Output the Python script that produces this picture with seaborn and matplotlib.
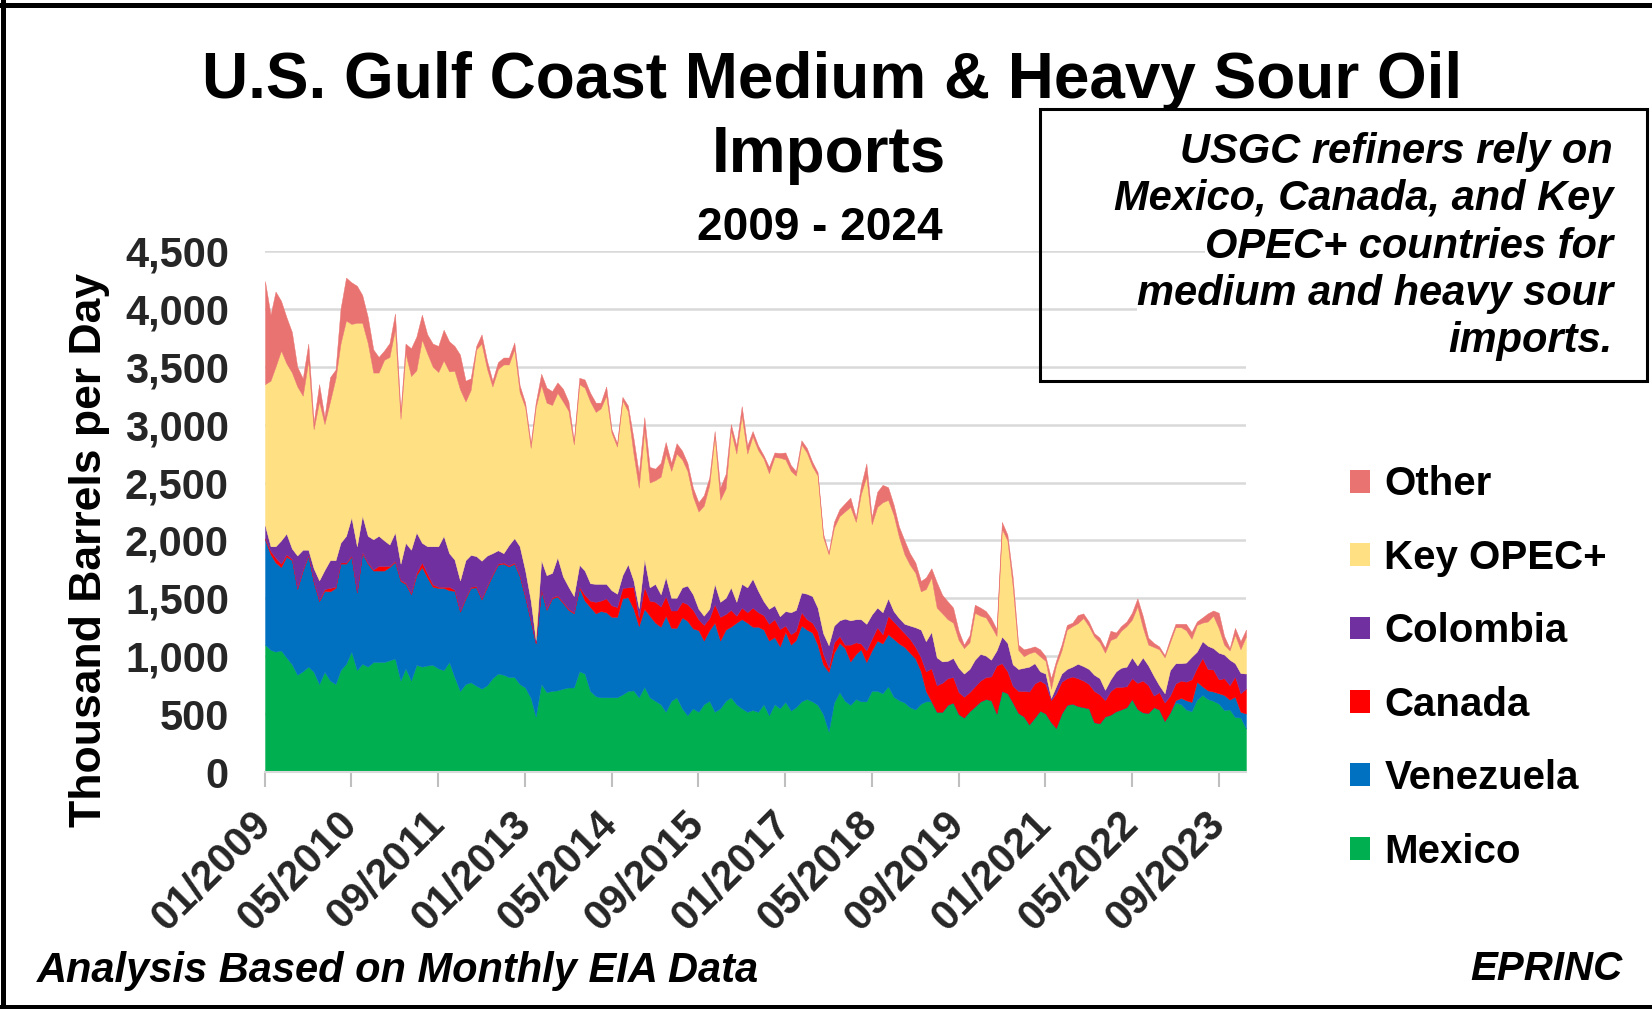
import numpy as np
import pandas as pd
import matplotlib
matplotlib.use("Agg")
import matplotlib.pyplot as plt
import seaborn as sns
from matplotlib.patches import Patch, Rectangle
from matplotlib.lines import Line2D

# ---------------- data (thousand barrels per day, monthly from 01/2009) ----------------
start_month = "2009-01"

mexico = [
    1100, 1055, 1040, 1050, 990, 930, 840, 870, 910, 865,
    760, 865, 790, 760, 880, 935, 1040, 880, 935, 910,
    950, 950, 950, 965, 980, 790, 895, 790, 925, 910,
    920, 925, 895, 880, 950, 820, 700, 760, 775, 745,
    720, 750, 810, 850, 840, 820, 820, 760, 730, 640,
    480, 760, 690, 700, 705, 720, 730, 730, 870, 850,
    700, 655, 645, 645, 645, 645, 670, 700, 705, 645,
    735, 645, 615, 585, 520, 615, 645, 550, 490, 550,
    520, 585, 615, 520, 550, 615, 645, 585, 550, 520,
    535, 520, 585, 490, 585, 550, 605, 530, 560, 610,
    630, 610, 580, 500, 350, 600, 690, 615, 580, 630,
    610, 610, 700, 700, 680, 740, 650, 620, 600, 560,
    540, 590, 610, 610, 520, 520, 580, 600, 500, 470,
    525, 565, 610, 630, 620, 505, 700, 680, 600, 510,
    480, 410, 470, 530, 505, 430, 380, 505, 580, 590,
    570, 560, 550, 430, 420, 480, 495, 525, 540, 560,
    630, 545, 515, 510, 560, 540, 440, 515, 600, 585,
    540, 525, 625, 665, 630, 615, 590, 535, 540, 475,
    470, 375,
]

venezuela = [
    910, 825, 770, 720, 870, 900, 740, 870, 960, 775,
    715, 700, 770, 830, 920, 865, 820, 670, 955, 890,
    790, 790, 790, 805, 835, 860, 730, 745, 775, 860,
    760, 675, 695, 710, 620, 745, 685, 740, 815, 850,
    770, 850, 890, 940, 960, 955, 980, 930, 780, 660,
    630, 810, 710, 800, 810, 740, 670, 640, 720, 630,
    725, 715, 745, 735, 695, 695, 830, 810, 705, 615,
    675, 705, 675, 670, 830, 630, 600, 785, 815, 690,
    705, 550, 610, 770, 585, 615, 610, 705, 770, 770,
    720, 735, 645, 645, 580, 535, 605, 570, 580, 655,
    600, 595, 520, 430, 515, 430, 425, 455, 375, 390,
    450, 340, 350, 435, 430, 450, 500, 490, 480, 470,
    440, 280, 90, 0, 0, 0, 0, 0, 0, 0,
    0, 0, 0, 0, 0, 0, 0, 0, 0, 0,
    0, 0, 0, 0, 0, 0, 0, 0, 0, 0,
    0, 0, 0, 0, 0, 0, 0, 0, 0, 0,
    0, 0, 0, 0, 0, 0, 0, 0, 20, 55,
    80, 80, 155, 75, 75, 80, 90, 130, 85, 175,
    50, 130,
]

canada = [
    10, 30, 40, 30, 20, 10, 10, 10, 10, 10,
    10, 15, 30, 10, 10, 10, 10, 10, 10, 10,
    10, 40, 40, 10, 10, 10, 10, 10, 20, 40,
    35, 20, 10, 10, 30, 10, 10, 10, 10, 10,
    10, 10, 10, 10, 10, 10, 10, 10, 10, 10,
    10, 10, 10, 10, 10, 10, 10, 10, 10, 50,
    55, 100, 90, 120, 100, 85, 90, 85, 190, 75,
    190, 130, 180, 175, 170, 150, 150, 135, 145, 160,
    95, 135, 105, 160, 205, 135, 145, 60, 100, 90,
    165, 125, 125, 145, 155, 150, 55, 90, 80, 115,
    90, 85, 115, 90, 35, 90, 60, 30, 145, 100,
    50, 100, 100, 115, 80, 160, 150, 140, 120, 120,
    100, 120, 170, 285, 230, 250, 230, 220, 190, 180,
    165, 175, 180, 190, 205, 415, 240, 190, 145, 190,
    220, 285, 295, 260, 255, 190, 300, 275, 230, 235,
    240, 230, 210, 270, 250, 140, 205, 210, 195, 180,
    180, 225, 275, 240, 100, 150, 160, 145, 145, 150,
    160, 195, 120, 245, 185, 190, 120, 145, 125, 175,
    160, 215,
]

colombia = [
    110, 40, 100, 200, 180, 90, 280, 170, 40, 110,
    170, 165, 240, 230, 170, 230, 330, 390, 315, 230,
    260, 260, 220, 185, 245, 140, 345, 375, 350, 170,
    235, 330, 350, 440, 290, 260, 260, 320, 275, 260,
    325, 260, 180, 115, 80, 175, 210, 250, 220, 170,
    20, 250, 290, 210, 330, 220, 190, 140, 190, 210,
    150, 155, 145, 125, 130, 115, 110, 200, 55, 80,
    240, 115, 155, 105, 165, 110, 110, 125, 160, 135,
    90, 80, 80, 175, 130, 140, 195, 120, 205, 215,
    250, 185, 120, 130, 120, 110, 125, 190, 180, 170,
    220, 230, 205, 180, 195, 145, 135, 225, 210, 200,
    210, 230, 210, 170, 190, 150, 90, 80, 80, 115,
    170, 240, 260, 315, 240, 185, 150, 165, 210, 200,
    200, 230, 230, 185, 145, 130, 230, 245, 185, 190,
    200, 215, 175, 80, 90, 20, 60, 70, 80, 85,
    125, 125, 130, 140, 140, 90, 100, 135, 165, 170,
    180, 150, 200, 170, 170, 60, 80, 220, 175, 150,
    165, 195, 140, 145, 200, 185, 230, 205, 220, 115,
    175, 130,
]

key_opec = [
    1220, 1430, 1550, 1640, 1470, 1520, 1460, 1330, 1630, 1200,
    1545, 1260, 1370, 1570, 1720, 1860, 1670, 1930, 1665, 1665,
    1440, 1410, 1560, 1620, 1755, 1250, 1635, 1500, 1400, 1755,
    1665, 1550, 1505, 1515, 1570, 1630, 1650, 1370, 1425, 1785,
    1875, 1610, 1440, 1565, 1630, 1560, 1630, 1330, 1410, 1320,
    2010, 1510, 1490, 1450, 1420, 1510, 1520, 1310, 1560, 1580,
    1570, 1485, 1515, 1625, 1360, 1270, 1510, 1320, 1095, 1040,
    1110, 905, 895, 1015, 1065, 1095, 1245, 1105, 990, 845,
    840, 950, 1070, 1275, 880, 945, 1355, 1280, 1455, 1155,
    1230, 1215, 1230, 1170, 1280, 1370, 1310, 1220, 1160, 1280,
    1220, 1120, 1140, 830, 785, 845, 900, 925, 980, 840,
    1080, 1270, 780, 870, 950, 850, 830, 700, 600, 525,
    470, 330, 450, 470, 430, 415, 360, 305, 240, 220,
    230, 405, 330, 330, 290, 125, 930, 885, 670, 165,
    100, 115, 100, 130, 110, 80, 180, 200, 340, 350,
    350, 415, 370, 330, 310, 320, 340, 290, 320, 350,
    325, 510, 260, 180, 250, 310, 310, 240, 310, 310,
    280, 155, 230, 160, 210, 280, 210, 85, 80, 245,
    205, 320,
]

other = [
    890, 570, 650, 430, 400, 350, 170, 150, 150, 60,
    150, 60, 210, 75, 300, 370, 360, 320, 240, 225,
    200, 135, 80, 120, 135, 60, 85, 240, 290, 215,
    165, 200, 225, 265, 260, 215, 300, 180, 100, 30,
    80, 70, 50, 60, 60, 60, 60, 60, 40, 40,
    40, 100, 130, 120, 90, 110, 80, 30, 55, 70,
    75, 80, 50, 80, 30, 30, 30, 50, 135, 125,
    115, 135, 100, 120, 100, 70, 90, 75, 70, 75,
    80, 90, 65, 45, 105, 125, 55, 70, 80, 70,
    45, 40, 30, 55, 40, 40, 60, 50, 40, 35,
    40, 40, 30, 30, 15, 50, 60, 70, 80, 40,
    70, 115, 60, 130, 150, 110, 90, 90, 120, 100,
    90, 90, 100, 80, 220, 160, 155, 130, 80, 30,
    60, 70, 70, 55, 70, 60, 60, 50, 80, 45,
    60, 45, 45, 60, 40, 90, 40, 50, 40, 30,
    70, 40, 40, 30, 40, 45, 80, 45, 40, 40,
    60, 70, 100, 60, 35, 25, 20, 30, 30, 30,
    55, 60, 30, 45, 70, 45, 135, 75, 20, 60,
    70, 60,
]

series_names = ["Mexico", "Venezuela", "Canada", "Colombia", "Key OPEC+", "Other"]
series_colors = ["#00B050", "#0070C0", "#FF0000", "#7030A0", "#FFE083", "#E97370"]
tick_labels = ["01/2009", "05/2010", "09/2011", "01/2013", "05/2014", "09/2015",
               "01/2017", "05/2018", "09/2019", "01/2021", "05/2022", "09/2023"]
y_ticks = [0, 500, 1000, 1500, 2000, 2500, 3000, 3500, 4000, 4500]

title_line1 = "U.S. Gulf Coast Medium & Heavy Sour Oil"
title_line2 = "Imports"
subtitle = "2009 - 2024"
y_label = "Thousand Barrels per Day"
note_lines = ["USGC refiners rely on", "Mexico, Canada, and Key",
              "OPEC+ countries for", "medium and heavy sour", "imports."]
footer_left = "Analysis Based on Monthly EIA Data"
footer_right = "EPRINC"

# ---------------- styling ----------------
sns.set_theme(style="white")
plt.rcParams["font.family"] = ["Liberation Sans", "DejaVu Sans"]
plt.rcParams["text.color"] = "black"

dates = pd.date_range(start_month, periods=len(mexico), freq="MS")
df = pd.DataFrame({"Mexico": mexico, "Venezuela": venezuela, "Canada": canada,
                   "Colombia": colombia, "Key OPEC+": key_opec, "Other": other},
                  index=dates)

W, H = 1652, 1009
fig = plt.figure(figsize=(W / 100, H / 100), dpi=100)
fig.patch.set_facecolor("white")

ax = fig.add_axes([265 / W, 1 - 772 / H, (1246 - 265) / W, (772 - 251) / H])
ax.set_facecolor("white")
ax.stackplot(df.index, [df[c].values for c in series_names],
             colors=series_colors, labels=series_names,
             linewidth=0.3, edgecolor="face")

ax.set_xlim(dates[0], dates[-1])
ax.set_ylim(0, 4500)
ax.set_axisbelow(True)
ax.yaxis.grid(True, color="#D9D9D9", linewidth=1.8)
ax.xaxis.grid(False)
for s in ["left", "right", "top"]:
    ax.spines[s].set_visible(False)
ax.spines["bottom"].set_color("#D9D9D9")
ax.spines["bottom"].set_linewidth(1.5)

ax.set_yticks(y_ticks)
ax.set_yticklabels([f"{v:,}" for v in y_ticks], fontsize=30, fontweight="bold")
ax.tick_params(axis="y", length=0, pad=26)

tick_dates = [pd.to_datetime(t, format="%m/%Y") for t in tick_labels]
ax.set_xticks(tick_dates)
ax.set_xticklabels(tick_labels, rotation=45, ha="right", va="center",
                   rotation_mode="anchor", fontsize=30, fontweight="bold")
ax.tick_params(axis="x", length=11, width=1.5, color="#BFBFBF", pad=22, bottom=True)

fig.text(90 / W, 1 - 550 / H, y_label, rotation=90, ha="center", va="center",
         fontsize=32, fontweight="bold")

# legend (top-to-bottom: Other ... Mexico)
handles = [Patch(facecolor=c, edgecolor="none") for c in series_colors[::-1]]
fig.legend(handles, series_names[::-1], loc="center left",
           bbox_to_anchor=(1350 / W, 1 - 668 / H), frameon=False,
           prop={"weight": "bold", "size": 29}, handlelength=0.5, handleheight=0.5,
           handletextpad=0.35, labelspacing=0.88, borderpad=0, borderaxespad=0)

# annotation box
fig.patches.append(Rectangle((1040 / W, 1 - 381 / H), (1647 - 1040) / W, (381 - 109) / H,
                             transform=fig.transFigure, fill=False,
                             edgecolor="black", linewidth=2.2, zorder=1))
note_baselines = [163, 210, 258, 305, 352]
for line, yb in zip(note_lines, note_baselines):
    fig.text(1613 / W, 1 - yb / H, line, ha="right", va="baseline", fontsize=30,
             fontweight="bold", style="italic", zorder=2,
             bbox=dict(boxstyle="square,pad=0", facecolor="white", edgecolor="none"))

# titles
fig.text(832 / W, 1 - 98 / H, title_line1, ha="center", va="baseline",
         fontsize=46, fontweight="bold", zorder=5)
fig.text(829 / W, 1 - 172 / H, title_line2, ha="center", va="baseline",
         fontsize=46, fontweight="bold", zorder=5)
fig.text(820 / W, 1 - 240 / H, subtitle, ha="center", va="baseline",
         fontsize=33, fontweight="bold", zorder=5)

# footer
fig.text(37 / W, 1 - 982 / H, footer_left, ha="left", va="baseline",
         fontsize=30, fontweight="bold", style="italic")
fig.text(1623 / W, 1 - 980 / H, footer_right, ha="right", va="baseline",
         fontsize=29, fontweight="bold", style="italic")

# outer frame (left, top, bottom)
frame_kw = dict(transform=fig.transFigure, color="black", linewidth=3.6,
                solid_capstyle="projecting")
fig.lines.append(Line2D([2.5 / W, 2.5 / W], [0, 1], **frame_kw))
fig.lines.append(Line2D([0, 1], [1 - 4.5 / H, 1 - 4.5 / H], **frame_kw))
fig.lines.append(Line2D([0, 1], [2.5 / H, 2.5 / H], **frame_kw))

fig.savefig("out.png", dpi=100, facecolor="white")
